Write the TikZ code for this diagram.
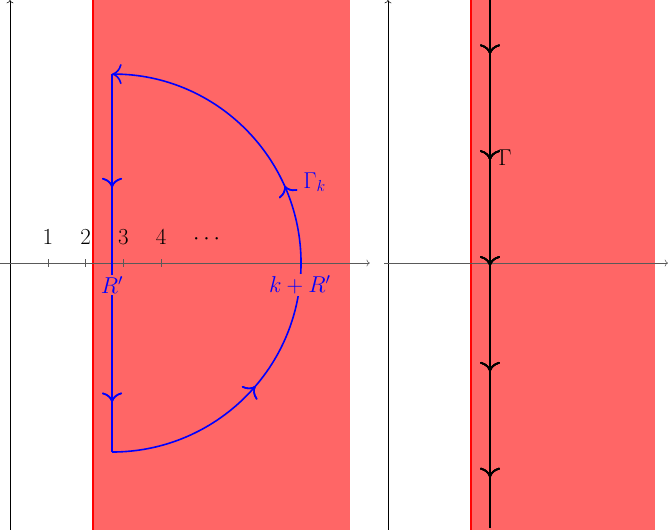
\documentclass[tikz,border=0pt]{standalone}
\usetikzlibrary{decorations.markings, calc, arrows.meta}
\definecolor{strip}{HTML}{FF6666}
\tikzset{
  axis/.style    = {->, black!65},
  yaxis/.style   = {->, black},
  cont/.style    = {line width=1.2pt, blue},
  path/.style    = {line width=1.2pt, black},
  edge/.style    = {line width=1.2pt, red},
  lbl/.style     = {font=\LARGE, inner sep=1pt},
  arrowat/.style = {postaction={decorate}, decoration={markings,
                    mark=at position #1 with {\arrow{To[scale=1.7]}}}},
}
\begin{document}
\begin{tikzpicture}
  \useasboundingbox (-0.265,-7.06) rectangle (17.41,6.96);

  % left panel: strip and axes
  \fill[strip] (2.2,-7.1) rectangle (9,7);
  \draw[edge] (2.2,-7.1) -- (2.2,7);
  \draw[yaxis] (0,-7.1) -- (0,6.96);
  \draw[axis] (-0.3,0) -- (9.52,0);
  \foreach \i in {1,...,4} {
    \draw[axis, -] (\i,0.1) -- (\i,-0.1);
    \node[lbl, anchor=base] (t\i) at (\i,0.48) {$\i$};
  }
  \node[lbl, anchor=base] (dots) at (5.2,0.48) {$\cdots$};

  % contour Gamma_k
  \coordinate (top) at (2.7,5);
  \coordinate (bot) at (2.7,-5);
  \coordinate (rgt) at (7.7,0);
  \draw[cont, arrowat=0.3, arrowat=0.868] (top) -- (bot);
  \draw[cont, -{To[scale=1.7]}, arrowat=0.274, arrowat=0.634]
    (bot) arc[start angle=-90, end angle=90, radius=5];
  \node[lbl, fill=strip, text=blue] (rp)  at (2.7,-0.58) {$R'$};
  \node[lbl, fill=strip, text=blue] (kr)  at (7.67,-0.58) {$k+R'$};
  \node[lbl, text=blue, anchor=west] (gk) at (7.72,2.14) {$\Gamma_k$};

  % right panel: strip and axes
  \fill[strip] (12.2,-7.1) rectangle (17.06,7);
  \draw[edge] (12.2,-7.1) -- (12.2,7);
  \draw[yaxis] (10,-7.1) -- (10,6.96);
  \draw[axis] (9.9,0) -- (17.41,0);

  % contour Gamma
  \coordinate (up) at (12.7,7);
  \coordinate (dn) at (12.7,-7);
  \draw[path, arrowat=0.105, arrowat=0.305, arrowat=0.505, arrowat=0.705,
    arrowat=0.905] (up) -- (dn);
  \node[lbl, anchor=west] (g) at (12.88,2.8) {$\Gamma$};
\end{tikzpicture}
\end{document}
